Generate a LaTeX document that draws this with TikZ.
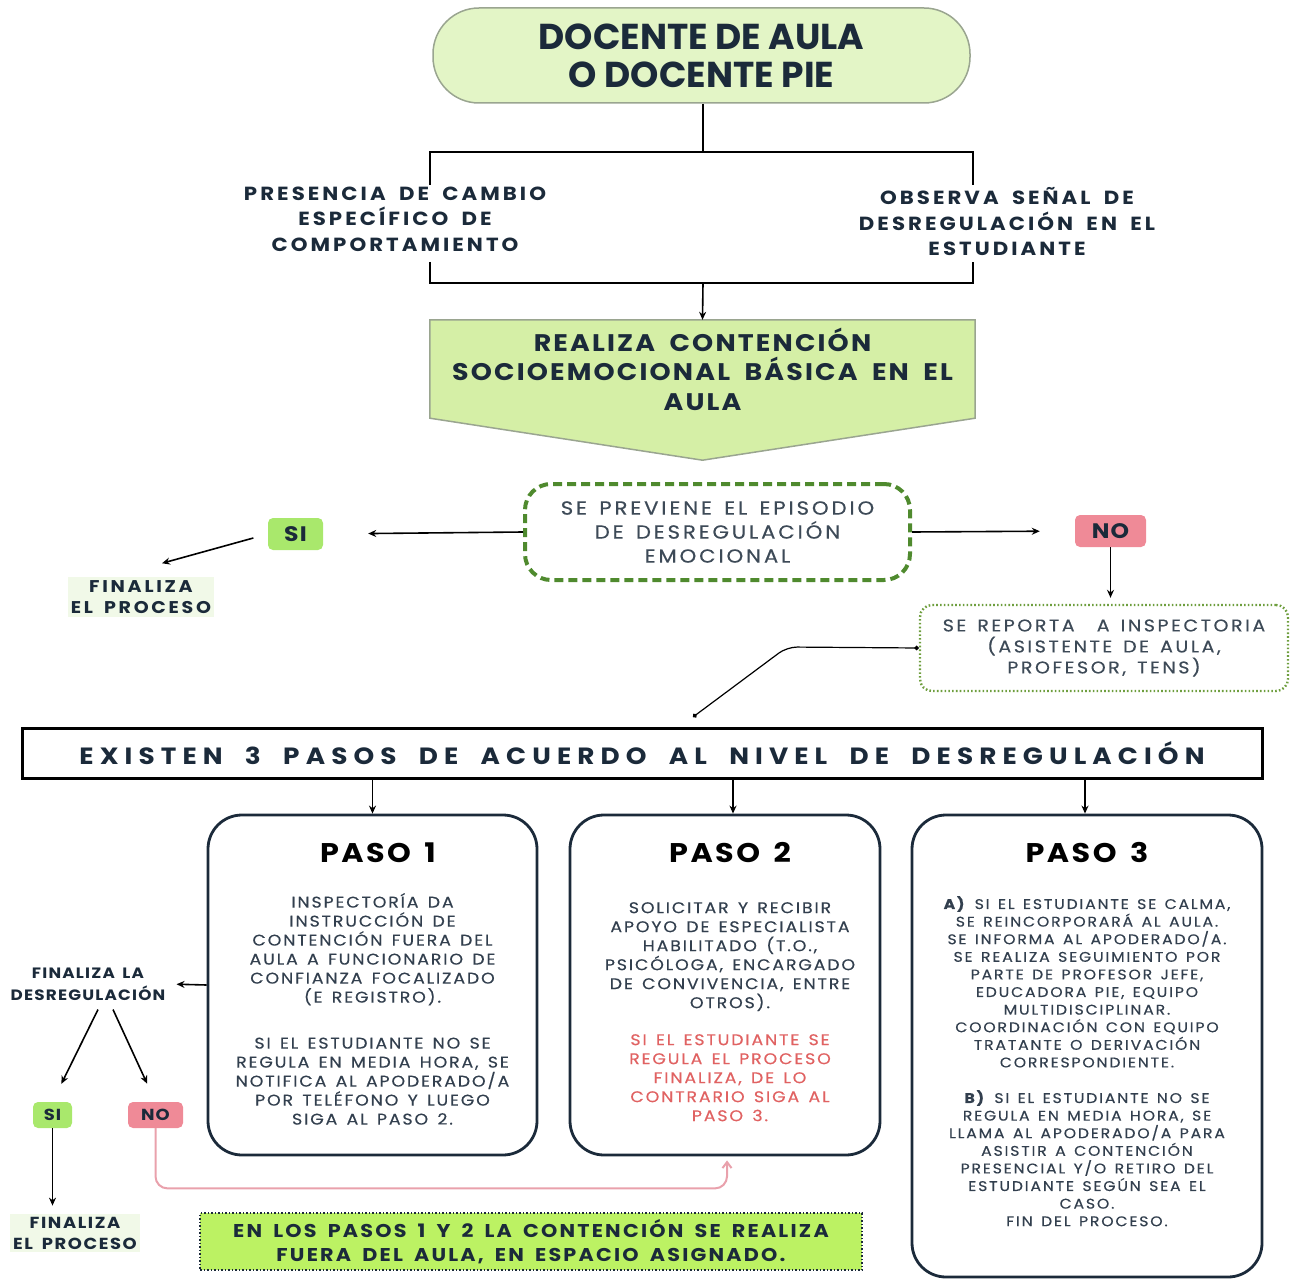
\documentclass[tikz,border=0pt]{standalone}
\usepackage{fontspec}
\setmainfont{Poppins}
\usetikzlibrary{arrows.meta,backgrounds,calc}
\definecolor{tinta}{HTML}{1B2A3A}
\definecolor{verdeclaro}{HTML}{E3F5C6}
\definecolor{verdeflecha}{HTML}{D5EFA6}
\definecolor{bordegris}{HTML}{9AA590}
\definecolor{verdeoscuro}{HTML}{4F8A2E}
\definecolor{verdepunto}{HTML}{6E9E3E}
\definecolor{verdesi}{HTML}{A9E86C}
\definecolor{rosano}{HTML}{EF8A97}
\definecolor{rosalinea}{HTML}{E9A1AC}
\definecolor{rojotexto}{HTML}{E06262}
\definecolor{lima}{HTML}{BCF263}
\definecolor{fondofin}{HTML}{F1F9E8}
% tracking: size, baseline, letter space, word space
\newcommand{\tracked}[4]{\fontsize{#1}{#2}\selectfont\addfontfeatures{LetterSpace=#3,FakeStretch=1.12}\spaceskip=#4em plus 0.1em minus 0.1em\relax}
\newcommand{\grueso}{\addfontfeatures{FakeBold=0.4}}
\begin{document}
\begin{tikzpicture}[x=1pt,y=-1pt]

    \tikzset{
      terminal/.style={
        draw=bordegris, line width=1.5pt, fill=verdeclaro,
        rounded corners=46pt, minimum width=537pt, minimum height=95pt,
        text=tinta, align=center,
        font=\fontsize{36}{38}\selectfont\bfseries,
      },
      rama/.style={
        text=tinta, align=center,
        font=\bfseries\tracked{19}{25.5}{16}{0.7},
      },
      corchete/.style={line width=2.6pt, black},
      flecha/.style={-{Stealth[length=8pt,width=7pt]}, line width=1.6pt, black},
      previene/.style={
        draw=verdeoscuro, line width=4pt, dash pattern=on 9pt off 5pt,
        rounded corners=26pt, minimum width=385pt, minimum height=96pt,
        text=tinta!85, align=center,
        font=\tracked{19}{24}{15}{0.65}\grueso,
      },
      sibox/.style={
        fill=verdesi, rounded corners=5pt, text=tinta, inner sep=0pt,
        font=\bfseries,
      },
      nobox/.style={sibox, fill=rosano},
      fin/.style={
        fill=fondofin, text=tinta, align=center, inner sep=3pt,
        font=\bfseries\tracked{17}{21}{16}{0.65},
      },
      reporte/.style={
        draw=verdepunto, line width=2.4pt, dash pattern=on 1.6pt off 2.2pt,
        rounded corners=12pt, minimum width=368pt, minimum height=86pt,
        text=tinta!85, align=center,
        font=\tracked{17}{21}{15}{0.65}\grueso,
      },
      pasos/.style={
        draw=black, line width=3pt, minimum width=1240pt, minimum height=50pt,
        text=tinta,
        font=\bfseries\tracked{23.5}{26}{26}{0.95},
      },
      pasobox/.style={
        draw=tinta, line width=2.8pt, rounded corners=34pt,
      },
      titulo/.style={font=\bfseries\tracked{27}{30}{9}{0.5}, text=black},
      cuerpo/.style={
        anchor=north, align=center, text=tinta!90, inner sep=0pt,
        font=\tracked{15.5}{19}{12}{0.6}\grueso,
      },
      nota/.style={
        draw=tinta, line width=2pt, dash pattern=on 1.5pt off 2pt,
        fill=lima, minimum width=662pt, minimum height=57pt,
        text=tinta, align=center,
        font=\bfseries\tracked{18.5}{24}{12}{0.6},
      },
    }

    % inicio
    \node[terminal] (docente) at (701.5,55.5) {DOCENTE DE AULA\\O DOCENTE PIE};
    \node[rama] (cambio) at (395,219) {PRESENCIA DE CAMBIO\\ESPECÍFICO DE\\COMPORTAMIENTO};
    \node[rama] (senal) at (1007,222) {OBSERVA SEÑAL DE\\DESREGULACIÓN EN EL\\ESTUDIANTE};
    \coordinate (arriba) at (703,152);
    \coordinate (abajo) at (703,283);
    \draw[corchete] (docente.south -| arriba) -- (arriba);
    \draw[corchete] (430,185) |- (arriba) -| (973,185);
    \draw[corchete] (430,262) |- (abajo) -| (973,262);

    % contencion basica
    \node[minimum width=545pt, minimum height=98pt, text=tinta, align=center,
      font=\bfseries\tracked{24}{29.5}{9}{0.6}]
      (realiza) at (702.5,369) {REALIZA CONTENCIÓN\\SOCIOEMOCIONAL BÁSICA EN EL\\AULA};
    \begin{scope}[on background layer]
      \filldraw[draw=bordegris, line width=1.5pt, fill=verdeflecha]
        (realiza.north west) -- (realiza.north east) -- (realiza.south east)
        -- ($(realiza.south)+(0,42)$) -- (realiza.south west) -- cycle;
    \end{scope}
    \draw[flecha] (abajo) -- (realiza.north);

    % prevencion
    \node[previene] (episodio) at (717.5,532) {SE PREVIENE EL EPISODIO\\DE DESREGULACIÓN\\EMOCIONAL};
    \node[sibox, minimum width=55pt, minimum height=32pt, font=\bfseries\tracked{21}{24}{6}{0.5}] (si) at (295.5,534) {SI};
    \node[nobox, minimum width=71pt, minimum height=32pt, font=\bfseries\tracked{21}{24}{6}{0.5}] (no) at (1110.5,531) {NO};
    \node[fin] (fin1) at (141,597) {FINALIZA\\EL PROCESO};
    \node[reporte] (reporta) at (1104,648) {SE REPORTA \ A INSPECTORIA\\(ASISTENTE DE AULA,\\PROFESOR, TENS)};
    \draw[flecha, shorten >=45pt] (episodio.west) -- (si.east);
    \draw[flecha, shorten >=35pt] (episodio.east) -- (no.west);
    \draw[flecha, shorten <=15pt] (si.west) -- ([xshift=21pt,yshift=14pt]fin1.north);
    \draw[flecha, shorten >=6pt] (no.south) -- (no.south |- reporta.north);

    % niveles
    \node[pasos] (niveles) at (642,753) {EXISTEN 3 PASOS DE ACUERDO AL NIVEL DE DESREGULACIÓN};
    \coordinate (enlace) at (693,717);
    \draw[line width=1.2pt, rounded corners=10pt, {Circle[length=4.5pt]}-{Circle[length=4.5pt]}]
      (enlace) -- (787,647) -- (reporta.west);

    \node[pasobox, minimum width=329pt, minimum height=340pt] (paso1) at (372.5,985) {};
    \node[pasobox, minimum width=310pt, minimum height=340pt] (paso2) at (725,985) {};
    \node[pasobox, minimum width=350pt, minimum height=462pt] (paso3) at (1087,1046) {};
    \foreach \p/\dx in {paso1/0,paso2/8,paso3/-2}
      \draw[flecha] ([xshift=\dx pt]\p.north |- niveles.south) -- ([xshift=\dx pt]\p.north);

    \node[titulo] (tit1) at (378,853) {PASO 1};
    \node[titulo] (tit2) at (730,853) {PASO 2};
    \node[titulo] (tit3) at (1087,853) {PASO 3};

    \node[cuerpo] (texto1) at (372.5,893) {INSPECTORÍA DA\\INSTRUCCIÓN DE\\CONTENCIÓN FUERA DEL\\AULA A FUNCIONARIO DE\\CONFIANZA FOCALIZADO\\(E REGISTRO).\\[27pt]SI EL ESTUDIANTE NO SE\\REGULA EN MEDIA HORA, SE\\NOTIFICA AL APODERADO/A\\POR TELÉFONO Y LUEGO\\SIGA AL PASO 2.};
    \node[cuerpo] (texto2) at (730,902) {SOLICITAR Y RECIBIR\\APOYO DE ESPECIALISTA\\HABILITADO (T.O.,\\PSICÓLOGA, ENCARGADO\\DE CONVIVENCIA, ENTRE\\OTROS).\\[18pt]\color{rojotexto}SI EL ESTUDIANTE SE\\\color{rojotexto}REGULA EL PROCESO\\\color{rojotexto}FINALIZA, DE LO\\\color{rojotexto}CONTRARIO SIGA AL\\\color{rojotexto}PASO 3.};
    \node[cuerpo, font=\tracked{14}{17.6}{13}{0.6}\grueso] (texto3) at (1087,896) {\textbf{A)} SI EL ESTUDIANTE SE CALMA,\\SE REINCORPORARÁ AL AULA.\\SE INFORMA AL APODERADO/A.\\SE REALIZA SEGUIMIENTO POR\\PARTE DE PROFESOR JEFE,\\EDUCADORA PIE, EQUIPO\\MULTIDISCIPLINAR.\\COORDINACIÓN CON EQUIPO\\TRATANTE O DERIVACIÓN\\CORRESPONDIENTE.\\[18pt]\textbf{B)} SI EL ESTUDIANTE NO SE\\REGULA EN MEDIA HORA, SE\\LLAMA AL APODERADO/A PARA\\ASISTIR A CONTENCIÓN\\PRESENCIAL Y/O RETIRO DEL\\ESTUDIANTE SEGÚN SEA EL\\CASO.\\FIN DEL PROCESO.};

    % salida del paso 1
    \node[fin, fill=none, font=\bfseries\tracked{15}{22}{8}{0.5}] (desreg) at (88,984) {FINALIZA LA\\DESREGULACIÓN};
    \node[sibox, minimum width=39pt, minimum height=26pt, font=\bfseries\tracked{16}{20}{6}{0.5}] (si2) at (52.5,1115) {SI};
    \node[nobox, minimum width=55pt, minimum height=26pt, font=\bfseries\tracked{16}{20}{6}{0.5}] (no2) at (155.5,1115) {NO};
    \node[fin, font=\bfseries\tracked{16}{21}{10}{0.55}] (fin2) at (75,1233) {FINALIZA\\EL PROCESO};
    \draw[flecha, shorten >=8pt] (paso1.west) -- (desreg.east);
    \draw[flecha, shorten >=20pt] ([xshift=10pt,yshift=-6pt]desreg.south) -- (si2.north);
    \draw[flecha, shorten >=20pt] ([xshift=25pt,yshift=-6pt]desreg.south) -- (no2.north);
    \draw[flecha] (si2.south) -- ([yshift=8pt]si2.south |- fin2.north);
    \draw[rosalinea, line width=2pt, rounded corners=12pt, -{Straight Barb[length=6pt,width=9pt]}]
      (no2.south) |- ($(paso2.south)+(2,32)$) -- ([xshift=2pt,yshift=-4pt]paso2.south);

    \node[nota] (aviso) at (531,1241.5) {EN LOS PASOS 1 Y 2 LA CONTENCIÓN SE REALIZA\\FUERA DEL AULA, EN ESPACIO ASIGNADO.};

    \useasboundingbox (0,0) rectangle (1290,1276);
\end{tikzpicture}
\end{document}
